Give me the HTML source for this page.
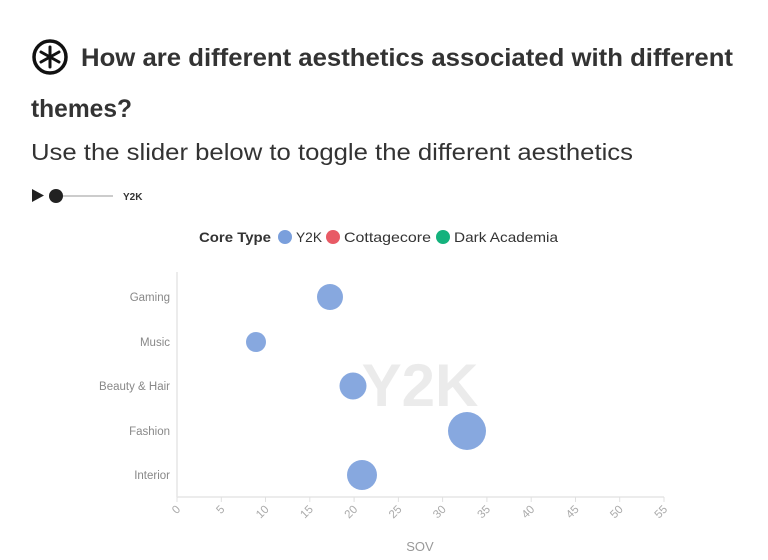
<!DOCTYPE html>
<html><head><style>
body{margin:0;width:768px;height:555px;background:#fff;overflow:hidden;font-family:"Liberation Sans",sans-serif;color:#333}
</style></head><body>
<svg width="768" height="555" xmlns="http://www.w3.org/2000/svg" font-family="Liberation Sans, sans-serif">
<g transform="translate(50,57)">
<circle r="16" fill="none" stroke="#111" stroke-width="3.5"/>
<g stroke="#111" stroke-width="3" stroke-linecap="round">
<line x1="0" y1="-10" x2="0" y2="10"/><line x1="-9" y1="-5" x2="9" y2="5"/><line x1="-9" y1="5" x2="9" y2="-5"/>
</g></g>
<text x="81" y="66" font-size="25" font-weight="bold" fill="#333" textLength="652" lengthAdjust="spacingAndGlyphs">How are different aesthetics associated with different</text>
<text x="31" y="117" font-size="25" font-weight="bold" fill="#333" textLength="101" lengthAdjust="spacingAndGlyphs">themes?</text>
<text x="31" y="160" font-size="23" fill="#333" textLength="602" lengthAdjust="spacingAndGlyphs">Use the slider below to toggle the different aesthetics</text>
<polygon points="32,189 32,202 44,195.5" fill="#222"/>
<line x1="56" y1="196" x2="113" y2="196" stroke="#ccc" stroke-width="2"/>
<circle cx="56" cy="196" r="7" fill="#222"/>
<text x="123" y="200" font-size="10" font-weight="bold" fill="#333">Y2K</text>
<text x="199" y="242" font-size="14" font-weight="bold" fill="#333" textLength="72" lengthAdjust="spacingAndGlyphs">Core Type</text>
<circle cx="285" cy="237" r="7" fill="#7a9fdc"/><text x="296" y="242" font-size="14" fill="#333" textLength="26" lengthAdjust="spacingAndGlyphs">Y2K</text>
<circle cx="333" cy="237" r="7" fill="#e85a65"/><text x="344" y="242" font-size="14" fill="#333" textLength="87" lengthAdjust="spacingAndGlyphs">Cottagecore</text>
<circle cx="443" cy="237" r="7" fill="#14b27d"/><text x="454" y="242" font-size="14" fill="#333" textLength="104" lengthAdjust="spacingAndGlyphs">Dark Academia</text>
<text x="420" y="406" font-size="60" font-weight="bold" fill="#ebebeb" text-anchor="middle">Y2K</text>
<line x1="177" y1="272" x2="177" y2="497" stroke="#e6e6e6" stroke-width="1.5"/>
<line x1="177" y1="497" x2="664" y2="497" stroke="#e6e6e6" stroke-width="1.5"/>
<g font-size="11.5" fill="#888" text-anchor="end">
<text x="170" y="301">Gaming</text><text x="170" y="346">Music</text><text x="170" y="390">Beauty &amp; Hair</text><text x="170" y="435">Fashion</text><text x="170" y="479">Interior</text>
</g>
<g font-size="11.5" fill="#aaa" text-anchor="end" stroke="#e0e0e0">
<g transform="translate(177,497)"><line y2="5"/><text transform="translate(4,13) rotate(-45)" stroke="none">0</text></g>
<g transform="translate(221.3,497)"><line y2="5"/><text transform="translate(4,13) rotate(-45)" stroke="none">5</text></g>
<g transform="translate(265.5,497)"><line y2="5"/><text transform="translate(4,13) rotate(-45)" stroke="none">10</text></g>
<g transform="translate(309.8,497)"><line y2="5"/><text transform="translate(4,13) rotate(-45)" stroke="none">15</text></g>
<g transform="translate(354.1,497)"><line y2="5"/><text transform="translate(4,13) rotate(-45)" stroke="none">20</text></g>
<g transform="translate(398.4,497)"><line y2="5"/><text transform="translate(4,13) rotate(-45)" stroke="none">25</text></g>
<g transform="translate(442.6,497)"><line y2="5"/><text transform="translate(4,13) rotate(-45)" stroke="none">30</text></g>
<g transform="translate(486.9,497)"><line y2="5"/><text transform="translate(4,13) rotate(-45)" stroke="none">35</text></g>
<g transform="translate(531.2,497)"><line y2="5"/><text transform="translate(4,13) rotate(-45)" stroke="none">40</text></g>
<g transform="translate(575.5,497)"><line y2="5"/><text transform="translate(4,13) rotate(-45)" stroke="none">45</text></g>
<g transform="translate(619.7,497)"><line y2="5"/><text transform="translate(4,13) rotate(-45)" stroke="none">50</text></g>
<g transform="translate(664,497)"><line y2="5"/><text transform="translate(4,13) rotate(-45)" stroke="none">55</text></g>
</g>
<text x="420" y="551" font-size="13" fill="#999" text-anchor="middle">SOV</text>
<g fill="#7a9fdc" fill-opacity="0.9">
<circle cx="330" cy="297" r="13"/>
<circle cx="256" cy="342" r="10"/>
<circle cx="353" cy="386" r="13.5"/>
<circle cx="467" cy="431" r="19"/>
<circle cx="362" cy="475" r="15"/>
</g>
</svg>
</body></html>
